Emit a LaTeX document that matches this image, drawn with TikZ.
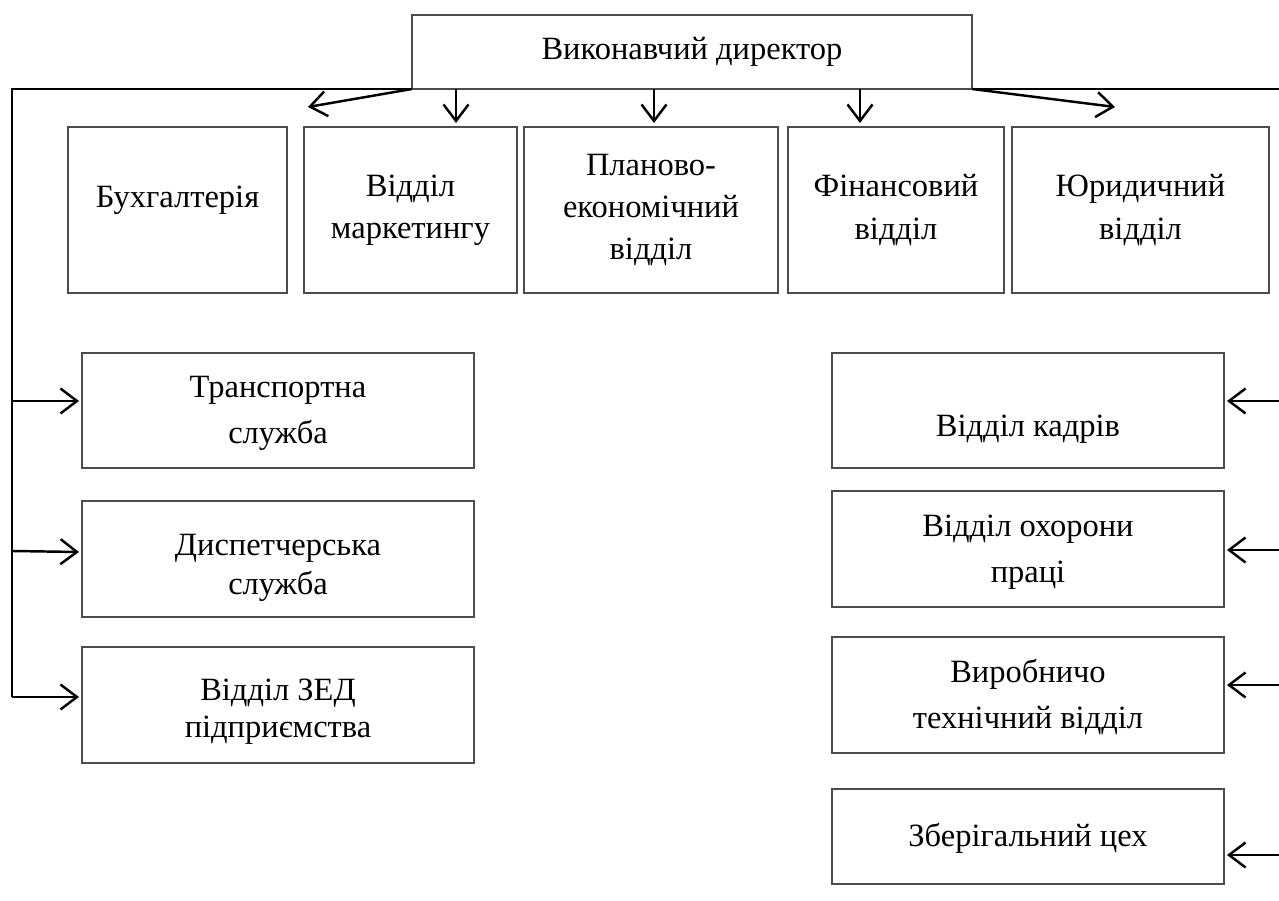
\documentclass[tikz,border=0pt]{standalone}
\usepackage{fontspec}
\setmainfont{Liberation Serif}
\usetikzlibrary{arrows.meta}
\begin{document}
\begin{tikzpicture}[x=0.02cm,y=-0.02cm,
  box/.style={draw=black!70, line width=0.8pt, inner sep=0pt, outer sep=0pt},
  txt/.style={inner sep=0pt, align=center, font=\fontsize{18.5}{24}\selectfont},
  wide/.style={font=\fontsize{18.5}{26}\selectfont},
  conn/.style={line width=1.4pt, black},
  arr/.style={conn, -{Straight Barb[length=3.3mm,width=5mm,line width=1.4pt]}}]
\useasboundingbox (0,0) rectangle (1279,901);
% top
\node[box, minimum width=560*0.02cm, minimum height=74*0.02cm,
  label={[txt]center:Виконавчий директор}] (dir) at (692,52) {};
% row 1
\node[box, minimum width=219*0.02cm, minimum height=166*0.02cm,
  label={[txt,yshift=10*0.02cm]center:Бухгалтерія}] (buh) at (177.5,210) {};
\node[box, minimum width=213*0.02cm, minimum height=166*0.02cm,
  label={[txt]center:Відділ\\маркетингу}] (mark) at (410.5,210) {};
\node[box, minimum width=254*0.02cm, minimum height=166*0.02cm,
  label={[txt]center:Планово-\\економічний\\відділ}] (plan) at (651,210) {};
\node[box, minimum width=216*0.02cm, minimum height=166*0.02cm,
  label={[txt]center:Фінансовий\\відділ}] (fin) at (896,210) {};
\node[box, minimum width=257*0.02cm, minimum height=166*0.02cm,
  label={[txt]center:Юридичний\\відділ}] (yur) at (1140.5,210) {};
% left column
\node[box, minimum width=392*0.02cm, minimum height=115*0.02cm,
  label={[txt,wide,yshift=-3*0.02cm]center:Транспортна\\служба}] (trans) at (278,410.5) {};
\node[box, minimum width=392*0.02cm, minimum height=116*0.02cm,
  label={[txt,font=\fontsize{18.5}{22}\selectfont,yshift=-9*0.02cm]center:Диспетчерська\\служба}] (disp) at (278,559) {};
\node[box, minimum width=392*0.02cm, minimum height=116*0.02cm,
  label={[txt,font=\fontsize{18.5}{21}\selectfont,yshift=-7*0.02cm]center:Відділ ЗЕД\\підприємства}] (zed) at (278,705) {};
% right column
\node[box, minimum width=392*0.02cm, minimum height=115*0.02cm,
  label={[txt,yshift=-19*0.02cm]center:Відділ кадрів}] (kadr) at (1028,410.5) {};
\node[box, minimum width=392*0.02cm, minimum height=116*0.02cm,
  label={[txt,wide,yshift=-3*0.02cm]center:Відділ охорони\\праці}] (ohor) at (1028,549) {};
\node[box, minimum width=392*0.02cm, minimum height=116*0.02cm,
  label={[txt,wide,yshift=-2*0.02cm]center:Виробничо\\технічний відділ}] (vyr) at (1028,695) {};
\node[box, minimum width=392*0.02cm, minimum height=95*0.02cm,
  label={[txt,yshift=-2*0.02cm]center:Зберігальний цех}] (zber) at (1028,836.5) {};
% coordinates
\coordinate (lt) at (12,89);
\coordinate (lb) at (12,697);
\coordinate (l1) at (12,401);
\coordinate (l2) at (12,551);
\coordinate (rt) at (1279,89);
\coordinate (r1) at (1279,401);
\coordinate (r2) at (1279,550);
\coordinate (r3) at (1279,685);
\coordinate (r4) at (1279,855);
\coordinate (t1) at (308,107);
\coordinate (t5) at (1115,107);
\coordinate (d2) at (456,89);
\coordinate (d3) at (654,89);
\coordinate (d4) at (860,89);
% left trunk
\draw[conn] (dir.south west) -- (lt) -- (lb);
\draw[arr] (l1) -- ([xshift=-0.06cm]l1 -| trans.west);
\draw[arr] (l2) -- ([xshift=-0.06cm,yshift=-0.02cm]l2 -| disp.west);
\draw[arr] (lb) -- ([xshift=-0.06cm]lb -| zed.west);
% right trunk
\draw[conn] (dir.south east) -- (rt);
\draw[arr] (r1) -- ([xshift=0.06cm]r1 -| kadr.east);
\draw[arr] (r2) -- ([xshift=0.06cm]r2 -| ohor.east);
\draw[arr] (r3) -- ([xshift=0.06cm]r3 -| vyr.east);
\draw[arr] (r4) -- ([xshift=0.06cm]r4 -| zber.east);
% row 1 arrows
\draw[arr] (dir.south west) -- (t1);
\draw[arr] (d2) -- ([yshift=0.08cm]d2 |- mark.north);
\draw[arr] (d3) -- ([yshift=0.08cm]d3 |- plan.north);
\draw[arr] (d4) -- ([yshift=0.08cm]d4 |- fin.north);
\draw[arr] (dir.south east) -- (t5);
\end{tikzpicture}
\end{document}
